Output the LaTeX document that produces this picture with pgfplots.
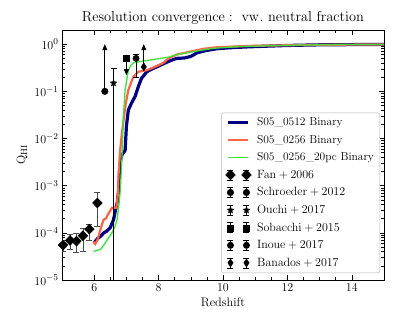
\documentclass[border=0pt]{standalone}
\usepackage{pgfplots}
\pgfplotsset{compat=1.18}
\usetikzlibrary{arrows.meta}

\definecolor{simnavy}{RGB}{0,0,128}
\definecolor{simred}{RGB}{255,99,71}
\definecolor{simgreen}{RGB}{60,225,60}

% filled five-point star
\pgfdeclareplotmark{fstar}{%
  \pgfpathmoveto{\pgfqpointpolar{90}{\pgfplotmarksize}}%
  \pgfpathlineto{\pgfqpointpolar{126}{0.42\pgfplotmarksize}}%
  \pgfpathlineto{\pgfqpointpolar{162}{\pgfplotmarksize}}%
  \pgfpathlineto{\pgfqpointpolar{198}{0.42\pgfplotmarksize}}%
  \pgfpathlineto{\pgfqpointpolar{234}{\pgfplotmarksize}}%
  \pgfpathlineto{\pgfqpointpolar{270}{0.42\pgfplotmarksize}}%
  \pgfpathlineto{\pgfqpointpolar{306}{\pgfplotmarksize}}%
  \pgfpathlineto{\pgfqpointpolar{342}{0.42\pgfplotmarksize}}%
  \pgfpathlineto{\pgfqpointpolar{18}{\pgfplotmarksize}}%
  \pgfpathlineto{\pgfqpointpolar{54}{0.42\pgfplotmarksize}}%
  \pgfpathclose\pgfusepathqfillstroke}

\pgfplotsset{
  simline/.style={legend image code/.code={\draw[##1] (0pt,0pt) -- (20pt,0pt); \path (25pt,0pt);}},
  obs/.style={only marks, black,
    legend image code/.code={
      \draw[black, line width=0.7pt] (2pt,-5pt)--(2pt,5pt) (-1pt,-5pt)--(5pt,-5pt) (-1pt,5pt)--(5pt,5pt)
        (18pt,-5pt)--(18pt,5pt) (15pt,-5pt)--(21pt,-5pt) (15pt,5pt)--(21pt,5pt);
      \draw[##1, mark repeat=1] plot coordinates {(2pt,0pt) (18pt,0pt)};
      \path (25pt,0pt);
    }},
}

\begin{document}
\begin{tikzpicture}
\begin{axis}[
  name=main, scale only axis, width=322pt, height=250pt,
  ymode=log, xmin=5, xmax=15, ymin=1e-5, ymax=2,
  xtick={6,8,10,12,14}, minor x tick num=3,
  ytick={1e-5,1e-4,1e-3,1e-2,1e-1,1},
  tick align=inside, major tick length=5pt, minor tick length=3pt,
  axis line style={line width=0.9pt},
  every tick/.style={black, line width=0.6pt},
  tick label style={font=\fontsize{13}{15}\selectfont},
  title={$\mathrm{Resolution\ convergence:\ vw.\ neutral\ fraction}$},
  title style={font=\fontsize{14.3}{17}\selectfont, yshift=-4pt},
  xlabel={Redshift}, ylabel={$\mathrm{Q_{HI}}$},
  label style={font=\fontsize{12.3}{14}\selectfont},
  legend cell align=left,
  legend style={at={(0.988,0.028)}, anchor=south east, draw=gray!60, rounded corners=2pt,
    font=\fontsize{11.5}{13}\selectfont, row sep=3.8pt, inner xsep=4pt, inner ysep=3pt},
]
\addplot[simnavy, line width=3.2pt, simline] coordinates {
(6.0,6.2e-5) (6.1,7.5e-5) (6.2,8.5e-5) (6.3,1.0e-4) (6.4,1.1e-4) (6.5,1.3e-4) (6.6,1.9e-4)
(6.68,3.5e-4) (6.72,4.5e-4) (6.76,8e-4) (6.8,3e-3) (6.86,4.5e-3) (6.96,5.6e-3) (7.0,1.8e-2)
(7.06,4.0e-2) (7.15,5.5e-2) (7.27,7.8e-2) (7.37,1.26e-1) (7.47,1.9e-1) (7.55,2.2e-1)
(7.63,2.6e-1) (7.8,3.0e-1) (7.94,3.3e-1) (8.1,3.7e-1) (8.3,4.3e-1) (8.45,4.7e-1) (8.56,5.0e-1)
(8.8,5.1e-1) (9.0,5.5e-1) (9.2,6.6e-1) (9.5,7.4e-1) (9.8,8.0e-1)
(10.2,8.4e-1) (10.8,8.8e-1) (11.4,9.1e-1) (12.0,9.4e-1) (13.0,9.7e-1) (14.0,9.8e-1) (15.0,9.9e-1)};
\addlegendentry{S05\_0512 Binary}
\addplot[simred, line width=2.2pt, simline] coordinates {
(5.97,6.5e-5) (6.03,5.8e-5) (6.1,7e-5) (6.19,1.15e-4) (6.29,1.9e-4) (6.36,2.0e-4) (6.45,2.6e-4)
(6.55,3.4e-4) (6.69,3.4e-4) (6.73,6e-4) (6.76,1.9e-3) (6.8,5e-3) (6.86,1.3e-2) (6.9,2.1e-2)
(6.98,5.5e-2) (7.06,1.07e-1) (7.14,1.5e-1) (7.21,2.0e-1) (7.37,2.6e-1) (7.63,2.8e-1)
(7.84,3.2e-1) (8.15,4.0e-1) (8.3,5.0e-1) (8.56,6.0e-1) (9.0,7.0e-1) (9.4,8.0e-1) (9.8,8.6e-1)
(10.8,9.2e-1) (12,9.5e-1) (13,9.7e-1) (14,9.8e-1) (15,9.9e-1)};
\addlegendentry{S05\_0256 Binary}
\addplot[simgreen, line width=1.3pt,
  legend image code/.code={\draw[simgreen, line width=1.9pt] (0pt,0pt) -- (20pt,0pt); \path (25pt,0pt);}]
coordinates {
(5.98,4e-5) (6.1,4.3e-5) (6.19,4.4e-5) (6.3,5.5e-5) (6.4,7e-5) (6.55,1.0e-4) (6.65,1.4e-4)
(6.71,1.9e-4) (6.76,3.5e-4) (6.81,8e-4) (6.86,3.5e-3) (6.9,2.5e-2) (6.96,1.07e-1) (7.06,2.8e-1)
(7.13,3.5e-1) (7.21,4.0e-1) (7.53,4.4e-1) (7.8,4.7e-1) (8.06,5.0e-1)
(8.3,5.3e-1) (8.56,6.0e-1) (9.0,6.8e-1) (9.4,7.6e-1) (9.8,8.3e-1) (10.5,8.9e-1)
(11.5,9.3e-1) (12.5,9.6e-1) (13.5,9.8e-1) (15,9.9e-1)};
\addlegendentry{S05\_0256\_20pc Binary}
% Fan + 2006
\addplot[obs, mark=diamond*, mark size=5pt, mark options={xscale=1.3},
  error bars/.cd, y dir=both, y explicit,
  error bar style={gray!60!black, line width=0.7pt},
  error mark options={rotate=90, mark size=3pt, gray!60!black, line width=0.7pt}]
coordinates {
(5.03,5.5e-5) += (0,1.5e-5) -= (0,1.5e-5)
(5.25,6.9e-5) += (0,2.2e-5) -= (0,2.4e-5)
(5.45,6.7e-5) += (0,3.2e-5) -= (0,2.8e-5)
(5.65,8.7e-5) += (0,3.5e-5) -= (0,4.6e-5)
(5.85,1.2e-4) += (0,3.5e-5) -= (0,5e-5)
(6.10,4.3e-4) += (0,3.1e-4) -= (0,2.95e-4)};
\addlegendentry{$\mathrm{Fan}+2006$}
% Schroeder + 2012
\addplot[obs, mark=*, mark size=3.3pt] coordinates {(6.33,0.1)};
\addlegendentry{$\mathrm{Schroeder}+2012$}
\addplot[black, line width=0.8pt, -{Triangle[width=5pt,length=6pt]}, forget plot] coordinates {(6.33,0.1) (6.33,1.0)};
% Ouchi + 2017
\addplot[obs, mark=fstar, mark size=3.5pt,
  error bars/.cd, y dir=plus, y explicit,
  error bar style={black, line width=0.8pt},
  error mark options={rotate=90, mark size=3pt, black, line width=0.8pt}]
coordinates {(6.6,0.15) += (0,0.15)};
\addlegendentry{$\mathrm{Ouchi}+2017$}
\addplot[black, line width=0.8pt, forget plot] coordinates {(6.6,1e-6) (6.6,0.15)};
% Sobacchi + 2015
\addplot[obs, mark=square*, mark size=3pt] coordinates {(7.0,0.5)};
\addlegendentry{$\mathrm{Sobacchi}+2015$}
\addplot[black, line width=0.8pt, -{Triangle[width=5pt,length=6pt]}, forget plot] coordinates {(7.0,0.5) (7.0,0.22)};
% Inoue + 2017
\addplot[obs, mark=*, mark size=3.2pt,
  error bars/.cd, y dir=both, y explicit,
  error bar style={black, line width=0.8pt},
  error mark options={rotate=90, mark size=3pt, black, line width=0.8pt}]
coordinates {(7.3,0.5) += (0,0.1) -= (0,0.3)};
\addlegendentry{$\mathrm{Inoue}+2017$}
% Banados + 2017
\addplot[black, line width=0.8pt, -{Triangle[width=5pt,length=6pt]}, forget plot] coordinates {(7.54,0.33) (7.54,1.0)};
\addplot[obs, mark=diamond*, mark size=4pt, mark options={xscale=0.9}] coordinates {(7.54,0.33)};
\addlegendentry{$\mathrm{Banados}+2017$}
\end{axis}
\pgfresetboundingbox
\path[use as bounding box] ([xshift=-62pt,yshift=-48pt]main.south west) rectangle ([xshift=14pt,yshift=30pt]main.north east);
\end{tikzpicture}
\end{document}
